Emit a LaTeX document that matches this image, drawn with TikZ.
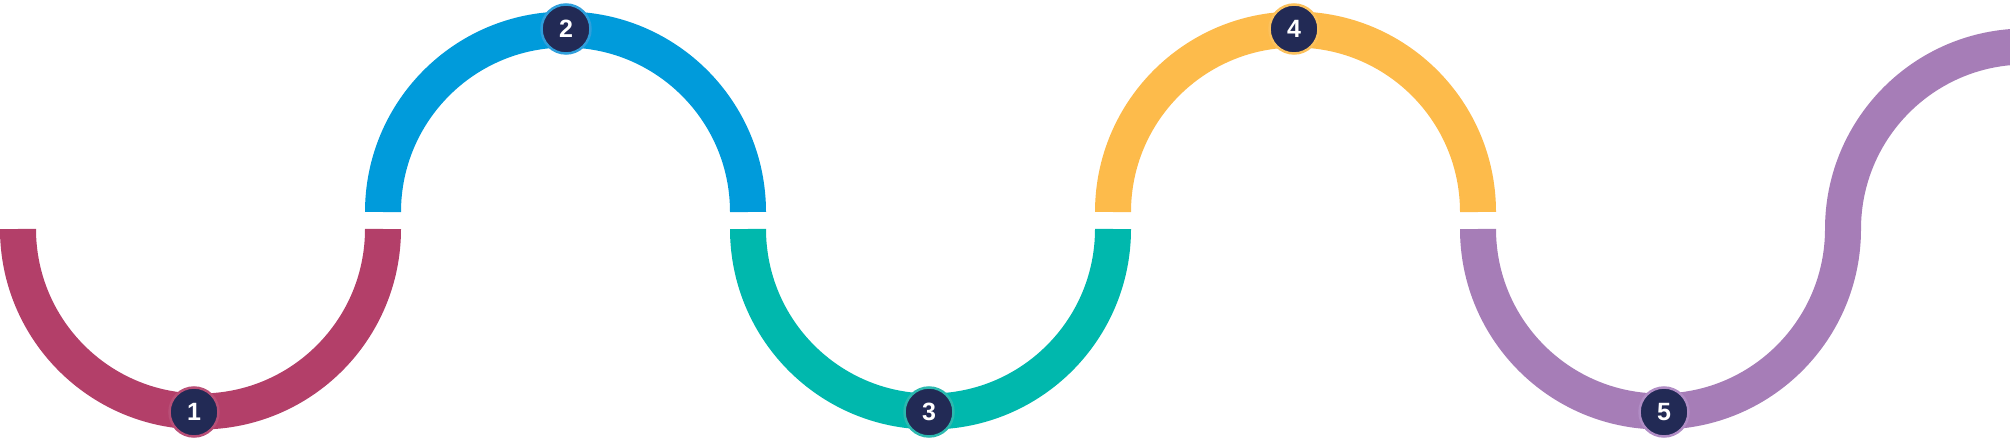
\documentclass[tikz,border=0pt]{standalone}
\usepackage{fontspec}
\setmainfont{Liberation Sans}
\definecolor{cred}{HTML}{B33F69}
\definecolor{cblue}{HTML}{009BDB}
\definecolor{cteal}{HTML}{00B8AD}
\definecolor{cyellow}{HTML}{FDBB4B}
\definecolor{cpurple}{HTML}{A67DB7}
\definecolor{navy}{HTML}{222A55}
\definecolor{rred}{HTML}{B84E76}
\definecolor{rblue}{HTML}{2E9FDC}
\definecolor{rteal}{HTML}{2BB9AF}
\definecolor{ryellow}{HTML}{FCC15C}
\definecolor{rpurple}{HTML}{B08CC4}
\begin{document}
\begin{tikzpicture}[x=1pt,y=1pt,
  band/.style={line width=36pt,line cap=butt},
  badge/.style={circle,fill=navy,draw=#1,line width=2.5pt,minimum size=49pt,inner sep=0pt,
    text=white,font=\fontsize{25}{25}\selectfont\bfseries}]
\useasboundingbox (0,0) rectangle (2010,442);
\begin{scope}
\clip (0,0) rectangle (2010,442);
\coordinate (p1) at (18,213);
\coordinate (p2) at (383,230);
\coordinate (p3) at (748,213);
\coordinate (p4) at (1113,230);
\coordinate (p5) at (1478,213);
\draw[band,cred] (p1) arc[start angle=180,end angle=360,radius=182.5];
\draw[band,cblue] (p2) arc[start angle=180,end angle=0,radius=182.5];
\draw[band,cteal] (p3) arc[start angle=180,end angle=360,radius=182.5];
\draw[band,cyellow] (p4) arc[start angle=180,end angle=0,radius=182.5];
\draw[band,cpurple] (p5) arc[start angle=180,end angle=360,radius=182.5]
  arc[start angle=180,end angle=90,radius=182.5];
\end{scope}
\node[badge=rred] (c1) at (194,30) {1};
\node[badge=rblue] (c2) at (566,413) {2};
\node[badge=rteal] (c3) at (929,30) {3};
\node[badge=ryellow] (c4) at (1294,413) {4};
\node[badge=rpurple] (c5) at (1664,30) {5};
\end{tikzpicture}
\end{document}
